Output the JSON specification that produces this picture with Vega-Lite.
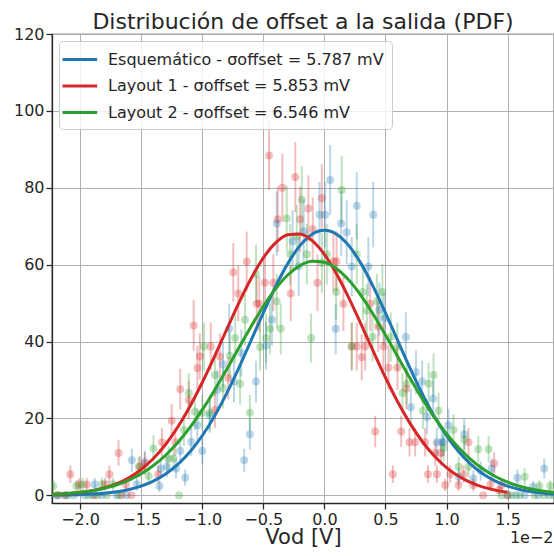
{
  "$schema": "https://vega.github.io/schema/vega-lite/v6.json",
  "autosize": "none",
  "width": 502,
  "height": 469,
  "padding": {"left": 52, "top": 34, "right": 0, "bottom": 53},
  "background": "white",
  "title": {"text": "Distribución de offset a la salida (PDF)", "fontSize": 22, "fontWeight": "normal", "color": "#262626", "font": "DejaVu Sans", "baseline": "alphabetic", "offset": 0, "dy": 25},
  "datasets": {
    "curves": [
      {"s":"Esquemático","x":-2.3,"y":0.026},{"s":"Esquemático","x":-2.2,"y":0.05},{"s":"Esquemático","x":-2.1,"y":0.095},{"s":"Esquemático","x":-2.0,"y":0.176},{"s":"Esquemático","x":-1.9,"y":0.314},{"s":"Esquemático","x":-1.8,"y":0.547},{"s":"Esquemático","x":-1.7,"y":0.922},{"s":"Esquemático","x":-1.6,"y":1.509},{"s":"Esquemático","x":-1.5,"y":2.396},{"s":"Esquemático","x":-1.4,"y":3.697},{"s":"Esquemático","x":-1.3,"y":5.531},{"s":"Esquemático","x":-1.2,"y":8.03},{"s":"Esquemático","x":-1.1,"y":11.32},{"s":"Esquemático","x":-1.0,"y":15.49},{"s":"Esquemático","x":-0.9,"y":20.57},{"s":"Esquemático","x":-0.8,"y":26.52},{"s":"Esquemático","x":-0.7,"y":33.17},{"s":"Esquemático","x":-0.6,"y":40.28},{"s":"Esquemático","x":-0.5,"y":47.46},{"s":"Esquemático","x":-0.4,"y":54.29},{"s":"Esquemático","x":-0.3,"y":60.27},{"s":"Esquemático","x":-0.2,"y":64.94},{"s":"Esquemático","x":-0.1,"y":67.92},{"s":"Esquemático","x":0.0,"y":68.94},{"s":"Esquemático","x":0.1,"y":67.92},{"s":"Esquemático","x":0.2,"y":64.94},{"s":"Esquemático","x":0.3,"y":60.27},{"s":"Esquemático","x":0.4,"y":54.29},{"s":"Esquemático","x":0.5,"y":47.46},{"s":"Esquemático","x":0.6,"y":40.28},{"s":"Esquemático","x":0.7,"y":33.17},{"s":"Esquemático","x":0.8,"y":26.52},{"s":"Esquemático","x":0.9,"y":20.57},{"s":"Esquemático","x":1.0,"y":15.49},{"s":"Esquemático","x":1.1,"y":11.32},{"s":"Esquemático","x":1.2,"y":8.03},{"s":"Esquemático","x":1.3,"y":5.531},{"s":"Esquemático","x":1.4,"y":3.697},{"s":"Esquemático","x":1.5,"y":2.396},{"s":"Esquemático","x":1.6,"y":1.509},{"s":"Esquemático","x":1.7,"y":0.922},{"s":"Esquemático","x":1.8,"y":0.547},{"s":"Esquemático","x":1.9,"y":0.314},
      {"s":"Layout 1","x":-2.3,"y":0.139},{"s":"Layout 1","x":-2.2,"y":0.25},{"s":"Layout 1","x":-2.1,"y":0.437},{"s":"Layout 1","x":-2.0,"y":0.742},{"s":"Layout 1","x":-1.9,"y":1.221},{"s":"Layout 1","x":-1.8,"y":1.954},{"s":"Layout 1","x":-1.7,"y":3.036},{"s":"Layout 1","x":-1.6,"y":4.584},{"s":"Layout 1","x":-1.5,"y":6.719},{"s":"Layout 1","x":-1.4,"y":9.564},{"s":"Layout 1","x":-1.3,"y":13.22},{"s":"Layout 1","x":-1.2,"y":17.76},{"s":"Layout 1","x":-1.1,"y":23.16},{"s":"Layout 1","x":-1.0,"y":29.34},{"s":"Layout 1","x":-0.9,"y":36.09},{"s":"Layout 1","x":-0.8,"y":43.13},{"s":"Layout 1","x":-0.7,"y":50.05},{"s":"Layout 1","x":-0.6,"y":56.41},{"s":"Layout 1","x":-0.5,"y":61.76},{"s":"Layout 1","x":-0.4,"y":65.66},{"s":"Layout 1","x":-0.3,"y":67.8},{"s":"Layout 1","x":-0.2,"y":68.0},{"s":"Layout 1","x":-0.1,"y":66.24},{"s":"Layout 1","x":0.0,"y":62.66},{"s":"Layout 1","x":0.1,"y":57.58},{"s":"Layout 1","x":0.2,"y":51.38},{"s":"Layout 1","x":0.3,"y":44.53},{"s":"Layout 1","x":0.4,"y":37.49},{"s":"Layout 1","x":0.5,"y":30.65},{"s":"Layout 1","x":0.6,"y":24.34},{"s":"Layout 1","x":0.7,"y":18.77},{"s":"Layout 1","x":0.8,"y":14.06},{"s":"Layout 1","x":0.9,"y":10.23},{"s":"Layout 1","x":1.0,"y":7.225},{"s":"Layout 1","x":1.1,"y":4.958},{"s":"Layout 1","x":1.2,"y":3.305},{"s":"Layout 1","x":1.3,"y":2.14},{"s":"Layout 1","x":1.4,"y":1.345},{"s":"Layout 1","x":1.5,"y":0.821},
      {"s":"Layout 2","x":-2.3,"y":0.184},{"s":"Layout 2","x":-2.2,"y":0.306},{"s":"Layout 2","x":-2.1,"y":0.498},{"s":"Layout 2","x":-2.0,"y":0.79},{"s":"Layout 2","x":-1.9,"y":1.224},{"s":"Layout 2","x":-1.8,"y":1.855},{"s":"Layout 2","x":-1.7,"y":2.745},{"s":"Layout 2","x":-1.6,"y":3.97},{"s":"Layout 2","x":-1.5,"y":5.608},{"s":"Layout 2","x":-1.4,"y":7.737},{"s":"Layout 2","x":-1.3,"y":10.43},{"s":"Layout 2","x":-1.2,"y":13.74},{"s":"Layout 2","x":-1.1,"y":17.67},{"s":"Layout 2","x":-1.0,"y":22.22},{"s":"Layout 2","x":-0.9,"y":27.28},{"s":"Layout 2","x":-0.8,"y":32.73},{"s":"Layout 2","x":-0.7,"y":38.36},{"s":"Layout 2","x":-0.6,"y":43.91},{"s":"Layout 2","x":-0.5,"y":49.12},{"s":"Layout 2","x":-0.4,"y":53.68},{"s":"Layout 2","x":-0.3,"y":57.3},{"s":"Layout 2","x":-0.2,"y":59.76},{"s":"Layout 2","x":-0.1,"y":60.89},{"s":"Layout 2","x":0.0,"y":60.6},{"s":"Layout 2","x":0.1,"y":58.93},{"s":"Layout 2","x":0.2,"y":55.98},{"s":"Layout 2","x":0.3,"y":51.95},{"s":"Layout 2","x":0.4,"y":47.1},{"s":"Layout 2","x":0.5,"y":41.72},{"s":"Layout 2","x":0.6,"y":36.1},{"s":"Layout 2","x":0.7,"y":30.51},{"s":"Layout 2","x":0.8,"y":25.2},{"s":"Layout 2","x":0.9,"y":20.33},{"s":"Layout 2","x":1.0,"y":16.02},{"s":"Layout 2","x":1.1,"y":12.34},{"s":"Layout 2","x":1.2,"y":9.281},{"s":"Layout 2","x":1.3,"y":6.82},{"s":"Layout 2","x":1.4,"y":4.896},{"s":"Layout 2","x":1.5,"y":3.435},{"s":"Layout 2","x":1.6,"y":2.353},{"s":"Layout 2","x":1.7,"y":1.575},{"s":"Layout 2","x":1.8,"y":1.03},{"s":"Layout 2","x":1.9,"y":0.658}
    ],
    "pts": [
      {"s":"Esquemático","x":-2.2,"y":0,"e":0},{"s":"Esquemático","x":-2.12,"y":0,"e":0},{"s":"Esquemático","x":-2.05,"y":0,"e":0},{"s":"Esquemático","x":-1.96,"y":0,"e":0},{"s":"Esquemático","x":-1.9,"y":0,"e":0},{"s":"Esquemático","x":-1.82,"y":0,"e":0},{"s":"Esquemático","x":-1.7,"y":0,"e":0},{"s":"Esquemático","x":-1.62,"y":0,"e":0},
      {"s":"Esquemático","x":-1.88,"y":2.8,"e":1.7},{"s":"Esquemático","x":-1.535,"y":2.9,"e":1.7},{"s":"Esquemático","x":-1.576,"y":9.1,"e":3.0},{"s":"Esquemático","x":-1.47,"y":8.7,"e":2.9},{"s":"Esquemático","x":-1.35,"y":2.4,"e":1.5},{"s":"Esquemático","x":-1.34,"y":7.0,"e":2.6},{"s":"Esquemático","x":-1.29,"y":7.4,"e":2.7},{"s":"Esquemático","x":-1.215,"y":7.0,"e":2.6},{"s":"Esquemático","x":-1.18,"y":11.5,"e":3.4},{"s":"Esquemático","x":-1.14,"y":4.6,"e":2.1},{"s":"Esquemático","x":-1.09,"y":13.9,"e":3.7},{"s":"Esquemático","x":-1.04,"y":18.2,"e":4.3},{"s":"Esquemático","x":-1.0,"y":11.5,"e":3.4},{"s":"Esquemático","x":-0.94,"y":20.9,"e":4.6},{"s":"Esquemático","x":-0.877,"y":27.4,"e":5.2},{"s":"Esquemático","x":-0.83,"y":34.1,"e":5.8},{"s":"Esquemático","x":-0.78,"y":43.3,"e":6.6},{"s":"Esquemático","x":-0.74,"y":29.6,"e":5.4},{"s":"Esquemático","x":-0.68,"y":37.0,"e":6.1},{"s":"Esquemático","x":-0.656,"y":9.1,"e":3.0},{"s":"Esquemático","x":-0.61,"y":15.9,"e":4.0},{"s":"Esquemático","x":-0.56,"y":29.6,"e":5.4},{"s":"Esquemático","x":-0.478,"y":38.9,"e":6.2},{"s":"Esquemático","x":-0.43,"y":45.7,"e":6.8},{"s":"Esquemático","x":-0.39,"y":70.7,"e":8.4},{"s":"Esquemático","x":-0.26,"y":66.1,"e":8.1},{"s":"Esquemático","x":-0.21,"y":59.6,"e":7.7},{"s":"Esquemático","x":-0.17,"y":68.7,"e":8.3},{"s":"Esquemático","x":-0.04,"y":73.0,"e":8.5},{"s":"Esquemático","x":0.006,"y":73.0,"e":8.5},{"s":"Esquemático","x":0.047,"y":82.0,"e":9.1},{"s":"Esquemático","x":0.093,"y":43.3,"e":6.6},{"s":"Esquemático","x":0.137,"y":70.7,"e":8.4},{"s":"Esquemático","x":0.183,"y":68.4,"e":8.3},{"s":"Esquemático","x":0.224,"y":59.5,"e":7.7},{"s":"Esquemático","x":0.265,"y":75.3,"e":8.7},{"s":"Esquemático","x":0.36,"y":59.5,"e":7.7},{"s":"Esquemático","x":0.4,"y":73.0,"e":8.5},{"s":"Esquemático","x":0.45,"y":48.3,"e":7.0},{"s":"Esquemático","x":0.49,"y":45.9,"e":6.8},{"s":"Esquemático","x":0.667,"y":41.2,"e":6.4},{"s":"Esquemático","x":0.708,"y":22.9,"e":4.8},{"s":"Esquemático","x":0.75,"y":32.0,"e":5.7},{"s":"Esquemático","x":0.8,"y":29.6,"e":5.4},{"s":"Esquemático","x":0.84,"y":20.4,"e":4.5},{"s":"Esquemático","x":0.89,"y":25.1,"e":5.0},{"s":"Esquemático","x":0.92,"y":13.8,"e":3.7},{"s":"Esquemático","x":0.96,"y":13.8,"e":3.7},{"s":"Esquemático","x":0.975,"y":13.9,"e":3.7},{"s":"Esquemático","x":1.016,"y":18.2,"e":4.3},{"s":"Esquemático","x":1.1,"y":4.8,"e":2.2},{"s":"Esquemático","x":1.145,"y":15.9,"e":4.0},{"s":"Esquemático","x":1.22,"y":4.4,"e":2.1},{"s":"Esquemático","x":1.28,"y":6.3,"e":2.5},{"s":"Esquemático","x":1.37,"y":7.0,"e":2.6},{"s":"Esquemático","x":1.58,"y":4.6,"e":2.1},{"s":"Esquemático","x":1.71,"y":2.2,"e":1.5},{"s":"Esquemático","x":1.8,"y":7.0,"e":2.6},
      {"s":"Esquemático","x":1.5,"y":0,"e":0},{"s":"Esquemático","x":1.57,"y":0,"e":0},{"s":"Esquemático","x":1.64,"y":0,"e":0},{"s":"Esquemático","x":1.75,"y":0,"e":0},{"s":"Esquemático","x":1.84,"y":0,"e":0},
      {"s":"Layout 1","x":-2.18,"y":0,"e":0},{"s":"Layout 1","x":-2.12,"y":0,"e":0},{"s":"Layout 1","x":-1.88,"y":0,"e":0},{"s":"Layout 1","x":-1.66,"y":0,"e":0},{"s":"Layout 1","x":-1.58,"y":0,"e":0},
      {"s":"Layout 1","x":-2.08,"y":5.5,"e":2.3},{"s":"Layout 1","x":-2.01,"y":2.8,"e":1.7},{"s":"Layout 1","x":-1.945,"y":2.8,"e":1.7},{"s":"Layout 1","x":-1.795,"y":2.9,"e":1.7},{"s":"Layout 1","x":-1.76,"y":5.5,"e":2.3},{"s":"Layout 1","x":-1.685,"y":11.0,"e":3.3},{"s":"Layout 1","x":-1.625,"y":2.8,"e":1.7},{"s":"Layout 1","x":-1.51,"y":7.4,"e":2.7},{"s":"Layout 1","x":-1.47,"y":8.3,"e":2.9},{"s":"Layout 1","x":-1.36,"y":5.5,"e":2.3},{"s":"Layout 1","x":-1.33,"y":13.8,"e":3.7},{"s":"Layout 1","x":-1.25,"y":19.4,"e":4.4},{"s":"Layout 1","x":-1.22,"y":13.9,"e":3.7},{"s":"Layout 1","x":-1.18,"y":27.6,"e":5.3},{"s":"Layout 1","x":-1.11,"y":24.8,"e":5.0},{"s":"Layout 1","x":-1.07,"y":44.2,"e":6.6},{"s":"Layout 1","x":-1.04,"y":33.1,"e":5.8},{"s":"Layout 1","x":-1.02,"y":36.1,"e":6.0},{"s":"Layout 1","x":-0.93,"y":38.7,"e":6.2},{"s":"Layout 1","x":-0.896,"y":22.2,"e":4.7},{"s":"Layout 1","x":-0.855,"y":36.1,"e":6.0},{"s":"Layout 1","x":-0.787,"y":30.5,"e":5.5},{"s":"Layout 1","x":-0.746,"y":58.0,"e":7.6},{"s":"Layout 1","x":-0.705,"y":52.5,"e":7.2},{"s":"Layout 1","x":-0.636,"y":60.8,"e":7.8},{"s":"Layout 1","x":-0.554,"y":49.8,"e":7.1},{"s":"Layout 1","x":-0.533,"y":49.8,"e":7.1},{"s":"Layout 1","x":-0.486,"y":55.3,"e":7.4},{"s":"Layout 1","x":-0.453,"y":88.4,"e":9.0},{"s":"Layout 1","x":-0.418,"y":55.3,"e":7.4},{"s":"Layout 1","x":-0.382,"y":71.8,"e":8.5},{"s":"Layout 1","x":-0.344,"y":80.0,"e":8.9},{"s":"Layout 1","x":-0.275,"y":52.5,"e":7.2},{"s":"Layout 1","x":-0.238,"y":82.8,"e":9.1},{"s":"Layout 1","x":-0.199,"y":71.8,"e":8.5},{"s":"Layout 1","x":-0.131,"y":74.6,"e":8.6},{"s":"Layout 1","x":-0.095,"y":69.2,"e":8.3},{"s":"Layout 1","x":-0.057,"y":55.3,"e":7.4},{"s":"Layout 1","x":-0.021,"y":77.3,"e":8.8},{"s":"Layout 1","x":0.074,"y":60.9,"e":7.8},{"s":"Layout 1","x":0.1,"y":60.9,"e":7.8},{"s":"Layout 1","x":0.156,"y":49.8,"e":7.1},{"s":"Layout 1","x":0.224,"y":38.7,"e":6.2},{"s":"Layout 1","x":0.265,"y":38.7,"e":6.2},{"s":"Layout 1","x":0.306,"y":35.9,"e":6.0},{"s":"Layout 1","x":0.334,"y":38.7,"e":6.2},{"s":"Layout 1","x":0.375,"y":49.8,"e":7.1},{"s":"Layout 1","x":0.416,"y":16.6,"e":4.1},{"s":"Layout 1","x":0.44,"y":43.9,"e":6.6},{"s":"Layout 1","x":0.484,"y":38.7,"e":6.2},{"s":"Layout 1","x":0.525,"y":33.2,"e":5.8},{"s":"Layout 1","x":0.561,"y":5.5,"e":2.3},{"s":"Layout 1","x":0.598,"y":33.2,"e":5.8},{"s":"Layout 1","x":0.629,"y":16.6,"e":4.1},{"s":"Layout 1","x":0.67,"y":27.7,"e":5.3},{"s":"Layout 1","x":0.697,"y":13.8,"e":3.7},{"s":"Layout 1","x":0.743,"y":13.8,"e":3.7},{"s":"Layout 1","x":0.825,"y":13.8,"e":3.7},{"s":"Layout 1","x":0.848,"y":5.5,"e":2.3},{"s":"Layout 1","x":0.907,"y":11.0,"e":3.3},{"s":"Layout 1","x":0.921,"y":5.5,"e":2.3},{"s":"Layout 1","x":0.954,"y":11.0,"e":3.3},{"s":"Layout 1","x":0.989,"y":2.7,"e":1.6},{"s":"Layout 1","x":1.03,"y":5.5,"e":2.3},{"s":"Layout 1","x":1.098,"y":2.7,"e":1.6},{"s":"Layout 1","x":1.139,"y":5.5,"e":2.3},{"s":"Layout 1","x":1.18,"y":13.8,"e":3.7},{"s":"Layout 1","x":1.22,"y":2.6,"e":1.6},{"s":"Layout 1","x":1.36,"y":2.9,"e":1.7},{"s":"Layout 1","x":1.39,"y":8.3,"e":2.9},{"s":"Layout 1","x":1.43,"y":1.3,"e":1.1},{"s":"Layout 1","x":1.45,"y":2.6,"e":1.6},{"s":"Layout 1","x":1.3,"y":0,"e":0},{"s":"Layout 1","x":1.5,"y":0,"e":0},
      {"s":"Layout 2","x":-2.18,"y":0,"e":0},{"s":"Layout 2","x":-2.1,"y":0,"e":0},{"s":"Layout 2","x":-1.93,"y":0,"e":0},{"s":"Layout 2","x":-1.86,"y":0,"e":0},{"s":"Layout 2","x":-1.78,"y":0,"e":0},{"s":"Layout 2","x":-1.68,"y":0,"e":0},{"s":"Layout 2","x":-1.19,"y":0,"e":0},
      {"s":"Layout 2","x":-2.22,"y":2.4,"e":1.5},{"s":"Layout 2","x":-2.03,"y":2.4,"e":1.5},{"s":"Layout 2","x":-1.98,"y":2.8,"e":1.7},{"s":"Layout 2","x":-1.82,"y":2.9,"e":1.7},{"s":"Layout 2","x":-1.73,"y":2.9,"e":1.7},{"s":"Layout 2","x":-1.52,"y":7.4,"e":2.7},{"s":"Layout 2","x":-1.44,"y":5.0,"e":2.2},{"s":"Layout 2","x":-1.4,"y":12.2,"e":3.5},{"s":"Layout 2","x":-1.275,"y":9.6,"e":3.1},{"s":"Layout 2","x":-1.235,"y":9.6,"e":3.1},{"s":"Layout 2","x":-1.15,"y":17.0,"e":4.1},{"s":"Layout 2","x":-1.11,"y":26.6,"e":5.2},{"s":"Layout 2","x":-1.06,"y":21.8,"e":4.7},{"s":"Layout 2","x":-1.0,"y":21.5,"e":4.6},{"s":"Layout 2","x":-0.986,"y":38.7,"e":6.2},{"s":"Layout 2","x":-0.937,"y":21.5,"e":4.6},{"s":"Layout 2","x":-0.896,"y":31.3,"e":5.6},{"s":"Layout 2","x":-0.83,"y":27.9,"e":5.3},{"s":"Layout 2","x":-0.773,"y":36.3,"e":6.0},{"s":"Layout 2","x":-0.73,"y":40.9,"e":6.4},{"s":"Layout 2","x":-0.69,"y":29.0,"e":5.4},{"s":"Layout 2","x":-0.65,"y":45.7,"e":6.8},{"s":"Layout 2","x":-0.61,"y":21.5,"e":4.6},{"s":"Layout 2","x":-0.56,"y":57.6,"e":7.6},{"s":"Layout 2","x":-0.527,"y":38.6,"e":6.2},{"s":"Layout 2","x":-0.478,"y":40.9,"e":6.4},{"s":"Layout 2","x":-0.445,"y":43.3,"e":6.6},{"s":"Layout 2","x":-0.39,"y":50.5,"e":7.1},{"s":"Layout 2","x":-0.357,"y":43.3,"e":6.6},{"s":"Layout 2","x":-0.308,"y":72.0,"e":8.5},{"s":"Layout 2","x":-0.28,"y":62.7,"e":7.9},{"s":"Layout 2","x":-0.226,"y":67.4,"e":8.2},{"s":"Layout 2","x":-0.185,"y":76.9,"e":8.8},{"s":"Layout 2","x":-0.144,"y":62.7,"e":7.9},{"s":"Layout 2","x":-0.109,"y":40.9,"e":6.4},{"s":"Layout 2","x":-0.02,"y":60.5,"e":7.8},{"s":"Layout 2","x":0.02,"y":62.7,"e":7.9},{"s":"Layout 2","x":0.096,"y":52.9,"e":7.3},{"s":"Layout 2","x":0.142,"y":79.4,"e":8.9},{"s":"Layout 2","x":0.224,"y":38.7,"e":6.2},{"s":"Layout 2","x":0.265,"y":62.7,"e":7.9},{"s":"Layout 2","x":0.315,"y":52.9,"e":7.3},{"s":"Layout 2","x":0.348,"y":48.0,"e":6.9},{"s":"Layout 2","x":0.394,"y":41.2,"e":6.4},{"s":"Layout 2","x":0.43,"y":50.5,"e":7.1},{"s":"Layout 2","x":0.475,"y":52.9,"e":7.3},{"s":"Layout 2","x":0.544,"y":41.2,"e":6.4},{"s":"Layout 2","x":0.598,"y":38.7,"e":6.2},{"s":"Layout 2","x":0.64,"y":26.6,"e":5.2},{"s":"Layout 2","x":0.675,"y":29.0,"e":5.4},{"s":"Layout 2","x":0.807,"y":22.0,"e":4.7},{"s":"Layout 2","x":0.853,"y":29.0,"e":5.4},{"s":"Layout 2","x":0.894,"y":31.3,"e":5.6},{"s":"Layout 2","x":0.935,"y":22.0,"e":4.7},{"s":"Layout 2","x":0.975,"y":12.3,"e":3.5},{"s":"Layout 2","x":1.057,"y":17.0,"e":4.1},{"s":"Layout 2","x":1.1,"y":7.4,"e":2.7},{"s":"Layout 2","x":1.145,"y":14.5,"e":3.8},{"s":"Layout 2","x":1.18,"y":7.4,"e":2.7},{"s":"Layout 2","x":1.26,"y":12.0,"e":3.5},{"s":"Layout 2","x":1.345,"y":12.0,"e":3.5},{"s":"Layout 2","x":1.64,"y":4.8,"e":2.2},{"s":"Layout 2","x":1.76,"y":2.4,"e":1.5},{"s":"Layout 2","x":1.85,"y":2.4,"e":1.5},
      {"s":"Layout 2","x":1.45,"y":0,"e":0},{"s":"Layout 2","x":1.53,"y":0,"e":0},{"s":"Layout 2","x":1.6,"y":0,"e":0},{"s":"Layout 2","x":1.72,"y":0,"e":0},{"s":"Layout 2","x":1.8,"y":0,"e":0},{"s":"Layout 2","x":1.88,"y":0,"e":0}
    ]
  },
  "layer": [
    {
      "data": {"name": "pts"},
      "mark": {"type": "errorbar", "ticks": false, "thickness": 2, "opacity": 0.3, "clip": true},
      "encoding": {
        "x": {"field": "x", "type": "quantitative", "scale": {"domain": [-2.23, 1.88], "nice": false, "zero": false},
              "axis": {"title": "Vod [V]", "orient": "bottom", "values": [-2, -1.5, -1, -0.5, 0, 0.5, 1, 1.5], "format": ".1f", "grid": true, "titleY": 40, "titleBaseline": "alphabetic", "titleFontSize": 21}},
        "y": {"field": "y", "type": "quantitative", "scale": {"domain": [-2, 120], "nice": false, "zero": false},
              "title": null, "axis": {"values": [0, 20, 40, 60, 80, 100, 120], "grid": true}},
        "yError": {"field": "e"},
        "color": {"field": "s", "type": "nominal", "scale": {"domain": ["Esquemático", "Layout 1", "Layout 2"], "range": ["#1f77b4", "#d62728", "#2ca02c"]}, "legend": null}
      }
    },
    {
      "data": {"name": "pts"},
      "mark": {"type": "circle", "size": 64, "opacity": 0.3, "clip": true},
      "encoding": {
        "x": {"field": "x", "type": "quantitative", "scale": {"domain": [-2.23, 1.88], "nice": false, "zero": false},
              "axis": {"title": "1e−2", "orient": "bottom", "labels": false, "ticks": false, "domain": false, "grid": false, "titleAnchor": "end", "titleAlign": "right", "titleX": 501, "titleY": 39, "titleBaseline": "alphabetic", "titleFontSize": 16}},
        "y": {"field": "y", "type": "quantitative", "title": null},
        "color": {"field": "s", "type": "nominal", "scale": {"domain": ["Esquemático", "Layout 1", "Layout 2"], "range": ["#1f77b4", "#d62728", "#2ca02c"]}, "legend": null}
      }
    },
    {
      "data": {"name": "curves"},
      "mark": {"type": "line", "strokeWidth": 3, "interpolate": "monotone", "clip": true},
      "encoding": {
        "x": {"field": "x", "type": "quantitative", "scale": {"domain": [-2.23, 1.88], "nice": false, "zero": false}, "axis": null},
        "y": {"field": "y", "type": "quantitative", "title": null},
        "color": {"field": "s", "type": "nominal", "scale": {"domain": ["Esquemático", "Layout 1", "Layout 2"], "range": ["#1f77b4", "#d62728", "#2ca02c"]},
                  "legend": {"title": null, "orient": "top-left", "offset": 7,
                             "labelExpr": "datum.label == 'Esquemático' ? 'Esquemático - σoffset = 5.787 mV' : datum.label == 'Layout 1' ? 'Layout 1 - σoffset = 5.853 mV' : 'Layout 2 - σoffset = 6.546 mV'"}}
      }
    }
  ],
  "resolve": {"axis": {"x": "independent"}, "scale": {"color": "independent"}},
  "config": {
    "font": "DejaVu Sans",
    "view": {"stroke": "#262626", "strokeWidth": 1.25},
    "axis": {"labelFontSize": 16, "labelColor": "#262626", "labelFont": "DejaVu Sans", "tickColor": "#262626", "domainColor": "#262626", "domainWidth": 1.25, "tickWidth": 1.25, "tickSize": 6, "labelPadding": 2, "gridColor": "#b0b0b0", "gridWidth": 1, "titleFontWeight": "normal", "titleColor": "#262626", "titleFont": "DejaVu Sans"},
    "legend": {"fillColor": "rgba(255,255,255,0.8)", "strokeColor": "#cccccc", "cornerRadius": 4, "padding": 8, "symbolType": "M-1.73,0H2.27", "symbolSize": 300, "symbolStrokeWidth": 3, "labelFontSize": 16, "labelColor": "#262626", "labelFont": "DejaVu Sans", "rowPadding": 7.5, "labelOffset": 20, "labelLimit": 0}
  }
}
